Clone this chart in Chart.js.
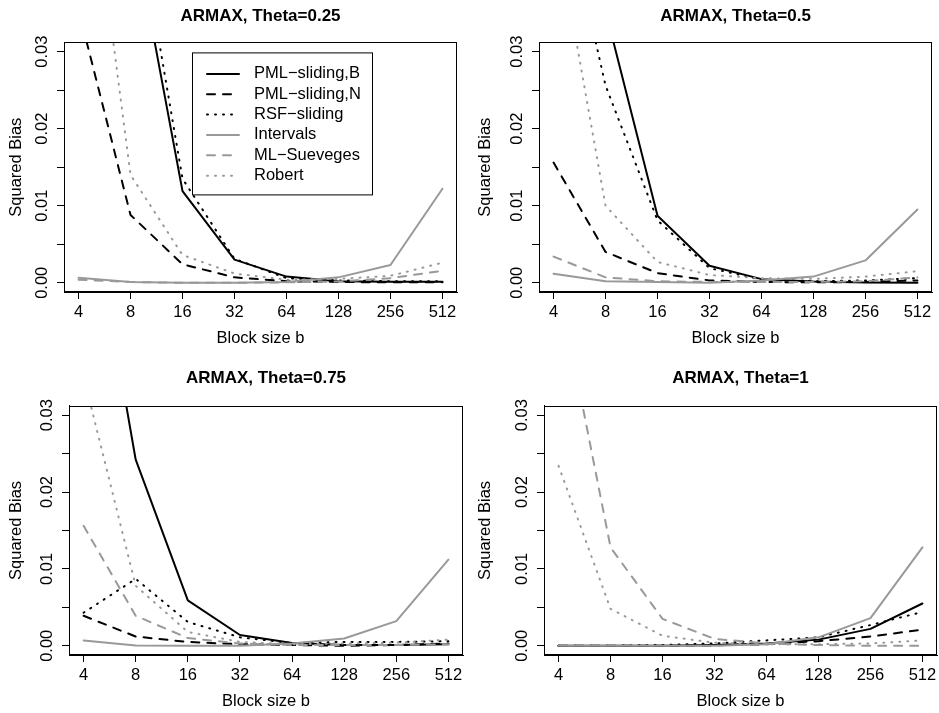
<!DOCTYPE html>
<html>
<head>
<meta charset="utf-8">
<script src="https://cdn.jsdelivr.net/npm/chart.js@4/dist/chart.umd.min.js"></script>
<style>
  body { margin: 0; background: #fff; }
  #wrap { position: relative; width: 939px; height: 713px; }
  canvas { position: absolute; }
</style>
</head>
<body>
<div id="wrap">
  <canvas id="c1" width="469" height="356" style="left:0;top:0"></canvas>
  <canvas id="c2" width="470" height="356" style="left:469px;top:0"></canvas>
  <canvas id="c3" width="469" height="357" style="left:0;top:356px"></canvas>
  <canvas id="c4" width="470" height="357" style="left:469px;top:356px"></canvas>
</div>
<script>
// block sizes on the x axis
const blockSizes = [4, 8, 16, 32, 64, 128, 256, 512];
const seriesNames = ['PML\u2212sliding,B', 'PML\u2212sliding,N', 'RSF\u2212sliding', 'Intervals', 'ML\u2212Sueveges', 'Robert'];
const yTicks = [0, 0.005, 0.01, 0.015, 0.02, 0.025, 0.03];

// Theta = 0.25
const pmlB_025 = [0.11, 0.048, 0.0119, 0.0030, 0.0008, 0.0002, 0.00012, 0.00012];
const pmlN_025 = [0.0354, 0.0088, 0.0024, 0.0007, 0.0002, 0.0001, 0.00005, 0.00005];
const rsf_025 = [0.12, 0.053, 0.0135, 0.0031, 0.0006, 0.0003, 0.0002, 0.0002];
const intervals_025 = [0.00065, 0.0001, 0.0, 0.0, 0.0001, 0.0007, 0.0023, 0.0122];
const mlS_025 = [0.0004, 0.0001, 0.0, 0.0, 0.00005, 0.00017, 0.0006, 0.00155];
const robert_025 = [0.066, 0.014, 0.0036, 0.0012, 0.0004, 0.0005, 0.0009, 0.0026];

// Theta = 0.5
const pmlB_05 = [0.09, 0.0353, 0.0087, 0.0022, 0.00047, 0.00017, 0.00004, 0.0];
const pmlN_05 = [0.0156, 0.0040, 0.00125, 0.0003, 0.0001, 0.00005, 0.0001, 0.0003];
const rsf_05 = [0.0555, 0.0256, 0.0081, 0.0019, 0.0004, 0.0002, 0.0003, 0.0006];
const intervals_05 = [0.00116, 0.0002, 0.0001, 0.0, 0.0003, 0.0008, 0.0029, 0.0095];
const mlS_05 = [0.0034, 0.0007, 0.0002, 0.0001, 0.0001, 0.0001, 0.0002, 0.0007];
const robert_05 = [0.048, 0.0100, 0.0027, 0.0010, 0.0006, 0.0005, 0.0008, 0.0015];

// Theta = 0.75
const pmlB_075 = [0.063, 0.0242, 0.0059, 0.0014, 0.00035, 0.0001, 0.0001, 0.0002];
const pmlN_075 = [0.0039, 0.0012, 0.0005, 0.0002, 0.0001, 0.0, 0.0001, 0.0003];
const rsf_075 = [0.0043, 0.0087, 0.0031, 0.0011, 0.00035, 0.0005, 0.0005, 0.0006];
const intervals_075 = [0.0007, 0.00005, 0.0, 0.0, 0.0003, 0.00095, 0.0032, 0.0112];
const mlS_075 = [0.0156, 0.0039, 0.0010, 0.0003, 0.0001, 0.0001, 0.0001, 0.0002];
const robert_075 = [0.035, 0.0078, 0.0018, 0.0005, 0.0002, 0.0003, 0.0004, 0.0008];

// Theta = 1
const pmlB_1 = [0.0, 0.0, 0.0, 0.0001, 0.0003, 0.0008, 0.0022, 0.0055];
const pmlN_1 = [0.0, 0.0, 0.0, 0.00005, 0.0002, 0.0006, 0.0012, 0.0021];
const rsf_1 = [0.0, 0.0, 0.0001, 0.0003, 0.0007, 0.0011, 0.0027, 0.0044];
const intervals_1 = [0.0, 0.0, 0.0, 0.0, 0.0002, 0.0011, 0.0036, 0.0128];
const mlS_1 = [0.047, 0.0128, 0.0035, 0.0009, 0.0003, 0.0001, 0.0, 0.0];
const robert_1 = [0.0234, 0.0048, 0.0013, 0.0004, 0.0002, 0.0002, 0.0003, 0.0007];

const FONT = "'Liberation Sans', Arial, Helvetica, sans-serif";
const lineStyles = [
  { color: '#000000', dash: [] },
  { color: '#000000', dash: [8, 8] },
  { color: '#000000', dash: [1, 7] },
  { color: '#999999', dash: [] },
  { color: '#999999', dash: [8, 8] },
  { color: '#999999', dash: [1, 7] }
];

// r-style axis range: 4% extension on each side
const logSpan = Math.log2(blockSizes[7]) - Math.log2(blockSizes[0]);
const xMin = Math.pow(2, Math.log2(blockSizes[0]) - 0.04 * logSpan);
const xMax = Math.pow(2, Math.log2(blockSizes[7]) + 0.04 * logSpan);
const yMin = -0.04 * 0.03;
const yMax = 0.03 + 0.04 * 0.03;

const panels = [
  { id: 'c1', title: 'ARMAX, Theta=0.25', series: [pmlB_025, pmlN_025, rsf_025, intervals_025, mlS_025, robert_025],
    yW: 64, right: 12, xH: 64, tTop: 6.5, tBottom: 15.5, xtBottom: 8, legend: true },
  { id: 'c2', title: 'ARMAX, Theta=0.5', series: [pmlB_05, pmlN_05, rsf_05, intervals_05, mlS_05, robert_05],
    yW: 70, right: 7, xH: 64, tTop: 6.5, tBottom: 15.5, xtBottom: 8 },
  { id: 'c3', title: 'ARMAX, Theta=0.75', series: [pmlB_075, pmlN_075, rsf_075, intervals_075, mlS_075, robert_075],
    yW: 69, right: 6, xH: 58, tTop: 12, tBottom: 17.5, xtBottom: 2 },
  { id: 'c4', title: 'ARMAX, Theta=1', series: [pmlB_1, pmlN_1, rsf_1, intervals_1, mlS_1, robert_1],
    yW: 75, right: 2, xH: 58, tTop: 12, tBottom: 17.5, xtBottom: 2 }
];

const boxPlugin = {
  id: 'rbox',
  afterDraw(chart) {
    const { ctx, chartArea: a } = chart;
    ctx.save();
    ctx.strokeStyle = '#000';
    ctx.lineWidth = 1;
    ctx.strokeRect(Math.round(a.left) + 0.5, Math.round(a.top) + 0.5,
      Math.round(a.right - a.left) - 1, Math.round(a.bottom - a.top) - 1);
    ctx.restore();
  }
};

const legendPlugin = {
  id: 'rlegend',
  afterDatasetsDraw(chart, args, opts) {
    if (!opts.show) return;
    const { ctx, chartArea: a } = chart;
    const lx = a.left + 128, ly = a.top + 10, w = 180, h = 142;
    ctx.save();
    ctx.fillStyle = '#fff';
    ctx.fillRect(lx, ly, w, h);
    ctx.strokeStyle = '#000';
    ctx.lineWidth = 1;
    ctx.strokeRect(lx + 0.5, ly + 0.5, w, h);
    ctx.font = '16.5px ' + FONT;
    ctx.textBaseline = 'middle';
    chart.data.datasets.forEach((ds, i) => {
      const y = ly + 21.5 + i * 20.35;
      ctx.beginPath();
      ctx.strokeStyle = ds.borderColor;
      ctx.lineWidth = ds.borderWidth;
      ctx.lineCap = 'round';
      ctx.setLineDash(ds.borderDash);
      ctx.moveTo(lx + 15, y);
      ctx.lineTo(lx + 47, y);
      ctx.stroke();
      ctx.setLineDash([]);
      ctx.fillStyle = '#000';
      ctx.fillText(ds.label, lx + 62, y);
    });
    ctx.restore();
  }
};

panels.forEach(p => {
  const datasets = p.series.map((vals, i) => ({
    label: seriesNames[i],
    data: blockSizes.map((b, k) => ({ x: b, y: vals[k] })),
    borderColor: lineStyles[i].color,
    borderWidth: 2,
    borderDash: lineStyles[i].dash,
    borderCapStyle: 'round',
    borderJoinStyle: 'round',
    pointRadius: 0,
    tension: 0,
    fill: false,
    clip: 0,
    order: 6 - i
  }));

  new Chart(document.getElementById(p.id), {
    type: 'line',
    data: { datasets: datasets },
    plugins: [boxPlugin, legendPlugin],
    options: {
      responsive: false,
      animation: false,
      devicePixelRatio: 1,
      layout: { padding: { left: 0, right: p.right, top: 0, bottom: 0 } },
      plugins: {
        legend: { display: false },
        tooltip: { enabled: false },
        rlegend: { show: !!p.legend },
        title: {
          display: true,
          fullSize: false,
          text: p.title,
          color: '#000',
          font: { family: FONT, size: 17, weight: 'bold' },
          padding: { top: p.tTop, bottom: p.tBottom }
        }
      },
      scales: {
        x: {
          type: 'logarithmic',
          min: xMin,
          max: xMax,
          bounds: 'data',
          afterBuildTicks: s => { s.ticks = blockSizes.map(v => ({ value: v })); },
          afterFit: s => { s.height = p.xH; s.paddingLeft = 0; s.paddingRight = 0; },
          grid: { drawOnChartArea: false, drawTicks: true, tickLength: 7, color: '#000', lineWidth: 1 },
          border: { display: true, color: '#000', width: 1 },
          ticks: {
            autoSkip: false, minRotation: 0, maxRotation: 0, padding: 3.5,
            color: '#000', font: { family: FONT, size: 16.5 },
            callback: v => String(v)
          },
          title: {
            display: true, text: 'Block size b', color: '#000',
            font: { family: FONT, size: 16.5 }, padding: { top: 0, bottom: p.xtBottom }
          }
        },
        y: {
          type: 'linear',
          min: yMin,
          max: yMax,
          bounds: 'data',
          afterBuildTicks: s => { s.ticks = yTicks.map(v => ({ value: v })); },
          afterFit: s => { s.width = p.yW; s.paddingTop = 0; s.paddingBottom = 0; },
          grid: { drawOnChartArea: false, drawTicks: true, tickLength: 7, color: '#000', lineWidth: 1 },
          border: { display: true, color: '#000', width: 1 },
          ticks: {
            autoSkip: false, minRotation: 90, maxRotation: 90, crossAlign: 'center', padding: -2,
            color: '#000', font: { family: FONT, size: 16.5 },
            callback: v => (Math.abs(v * 100 - Math.round(v * 100)) < 1e-9 ? v.toFixed(2) : '')
          },
          title: {
            display: true, text: 'Squared Bias', color: '#000',
            font: { family: FONT, size: 16.5 }, padding: { top: 7, bottom: 0 }
          }
        }
      }
    }
  });
});
</script>
</body>
</html>
